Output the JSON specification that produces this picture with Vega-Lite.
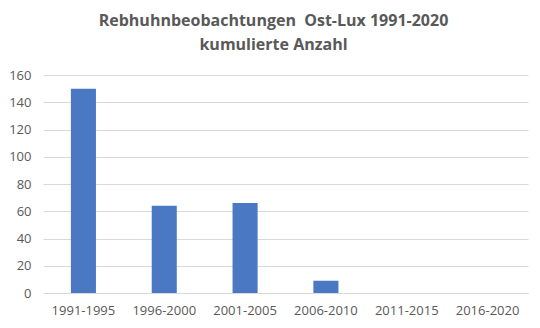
{
  "$schema": "https://vega.github.io/schema/vega-lite/v6.json",
  "autosize": {"type": "none"},
  "width": 485,
  "height": 218,
  "padding": {"left": 43, "top": 75, "right": 12, "bottom": 35},
  "background": "white",
  "title": {
    "text": ["Rebhuhnbeobachtungen\u00a0\u00a0Ost-Lux 1991-2020", "kumulierte Anzahl"],
    "font": "Open Sans",
    "fontSize": 16,
    "fontWeight": "bold",
    "color": "#595959",
    "anchor": "middle",
    "dx": -12,
    "offset": 16,
    "lineHeight": 24
  },
  "data": {
    "values": [
      {"period": "1991-1995", "count": 150},
      {"period": "1996-2000", "count": 64},
      {"period": "2001-2005", "count": 66},
      {"period": "2006-2010", "count": 9},
      {"period": "2011-2015", "count": 0},
      {"period": "2016-2020", "count": 0}
    ]
  },
  "mark": {"type": "bar", "color": "#4A78C2"},
  "encoding": {
    "x": {
      "field": "period",
      "type": "nominal",
      "sort": null,
      "title": null,
      "scale": {"paddingInner": 0.69, "paddingOuter": 0.345},
      "axis": {
        "labelAngle": 0,
        "labelFont": "Open Sans",
        "labelFontSize": 13,
        "labelColor": "#595959",
        "labelPadding": 11,
        "ticks": false,
        "domain": true,
        "domainColor": "#d9d9d9",
        "grid": false
      }
    },
    "y": {
      "field": "count",
      "type": "quantitative",
      "title": null,
      "scale": {"domain": [0, 160]},
      "axis": {
        "values": [0, 20, 40, 60, 80, 100, 120, 140, 160],
        "labelFont": "Open Sans",
        "labelFontSize": 13,
        "labelColor": "#595959",
        "labelPadding": 12,
        "ticks": false,
        "domain": false,
        "grid": true,
        "gridColor": "#d9d9d9"
      }
    }
  },
  "config": {"view": {"stroke": null}}
}
